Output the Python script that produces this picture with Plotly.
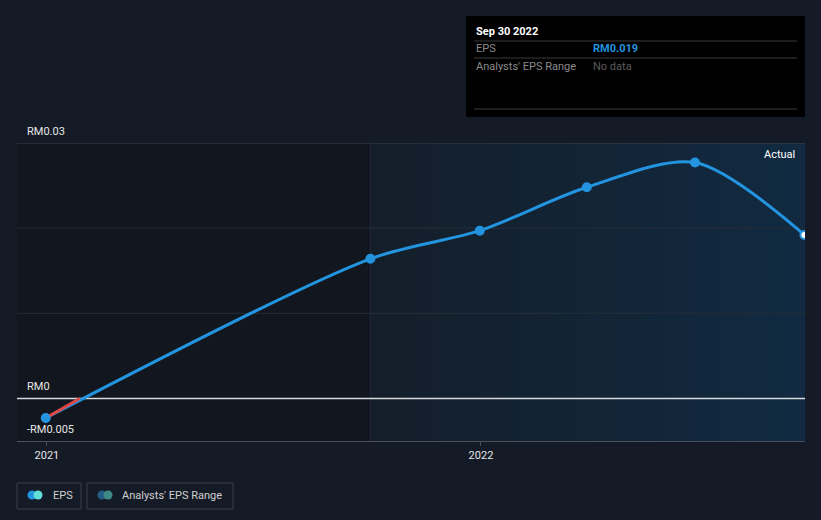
import plotly.graph_objects as go
import pandas as pd

# ---- data ----
dates = ["2020-12-31", "2021-09-30", "2021-12-31", "2022-03-31", "2022-06-30", "2022-09-30"]
eps = [-0.0023, 0.0164, 0.0197, 0.0248, 0.0277, 0.0192]
x_ticks = ["2021-01-01", "2022-01-01"]
x_tick_labels = ["2021", "2022"]
y_labels_vals = [0.03, 0.0, -0.005]
y_labels_text = ["RM0.03", "RM0", "-RM0.005"]
grid_vals = [0.01, 0.02]
top_val = 0.03
today = "2021-09-30"
x_range = ["2020-12-06 20:00", "2022-09-30 12:00"]
y_range = [-0.005, 0.03]

W, H = 821, 520
ML, MR, MT, MB = 17, 16, 143, 79
PW, PH = W - ML - MR, H - MT - MB

def px(x):
    return (x - ML) / PW

def py(y):
    return (H - MB - y) / PH

FONT = "Roboto, 'Open Sans', sans-serif"
BLUE = "#2394df"

fig = go.Figure()

# forecast-side shaded region (gradient)
fig.add_trace(go.Scatter(
    x=[today, x_range[1], x_range[1], today, today],
    y=[y_range[0], y_range[0], y_range[1], y_range[1], y_range[0]],
    mode="lines", line=dict(width=0), fill="toself",
    fillgradient=dict(type="horizontal",
                      colorscale=[[0, "#141e2a"], [1, "#112a41"]]),
    hoverinfo="skip", showlegend=False,
))

# gridlines drawn over the shaded region
for gv in grid_vals:
    fig.add_trace(go.Scatter(x=x_range, y=[gv, gv], mode="lines",
                             line=dict(color="#252e3a", width=1),
                             hoverinfo="skip", showlegend=False))
fig.add_trace(go.Scatter(x=x_range, y=[top_val, top_val], mode="lines",
                         line=dict(color="#3b424d", width=1),
                         hoverinfo="skip", showlegend=False))
# today divider
fig.add_trace(go.Scatter(x=[today, today], y=y_range, mode="lines",
                         line=dict(color="#1f2c3a", width=1),
                         hoverinfo="skip", showlegend=False))
# zero line
fig.add_trace(go.Scatter(x=x_range, y=[0, 0], mode="lines",
                         line=dict(color="#d6d9de", width=1.5),
                         hoverinfo="skip", showlegend=False))

# main EPS line
marker_fill = [BLUE] * (len(eps) - 1) + ["#ffffff"]
fig.add_trace(go.Scatter(
    x=dates, y=eps, mode="lines+markers",
    line=dict(color=BLUE, width=3, shape="spline", smoothing=0.85),
    marker=dict(size=8, color=marker_fill, line=dict(color=BLUE, width=2)),
    cliponaxis=True, showlegend=False, hoverinfo="skip",
))

# negative part in red: from first point to zero crossing
d0, d1 = pd.Timestamp(dates[0]), pd.Timestamp(dates[1])
frac = (0 - eps[0]) / (eps[1] - eps[0])
cross = d0 + (d1 - d0) * frac * 0.85
fig.add_trace(go.Scatter(
    x=[dates[0], cross], y=[eps[0], 0], mode="lines",
    line=dict(color="#e04646", width=3), showlegend=False, hoverinfo="skip",
))
# redraw first marker over red line
fig.add_trace(go.Scatter(
    x=[dates[0]], y=[eps[0]], mode="markers",
    marker=dict(size=9, color=BLUE), showlegend=False, hoverinfo="skip",
))

shapes = []
# tooltip box
shapes.append(dict(type="rect", xref="paper", yref="paper", x0=px(466), x1=px(805),
                   y0=py(117), y1=py(16), fillcolor="#000000", line=dict(width=0), layer="above"))
for yy in [41, 58, 109]:
    shapes.append(dict(type="line", xref="paper", yref="paper", x0=px(474), x1=px(797),
                       y0=py(yy), y1=py(yy), line=dict(color="#3a3a3a", width=1), layer="above"))

# legend boxes
shapes.append(dict(type="rect", xref="paper", yref="paper", x0=px(17), x1=px(81),
                   y0=py(509), y1=py(483), line=dict(color="#3b414b", width=1),
                   fillcolor="rgba(0,0,0,0)"))
shapes.append(dict(type="rect", xref="paper", yref="paper", x0=px(87), x1=px(233),
                   y0=py(509), y1=py(483), line=dict(color="#3b414b", width=1),
                   fillcolor="rgba(0,0,0,0)"))
# legend icons (two overlapping circles each)
def circle(cx, cy, r, color):
    return dict(type="circle", xref="paper", yref="paper", x0=px(cx - r), x1=px(cx + r),
                y0=py(cy + r), y1=py(cy - r), fillcolor=color, line=dict(width=0))
shapes += [circle(32, 495, 4.5, "#2394df"), circle(38, 495, 4.5, "#5fe0d6"),
           circle(102, 495, 4.5, "#235c86"), circle(108, 495, 4.5, "#3f8a84")]

annotations = []
for v, t in zip(y_labels_vals, y_labels_text):
    annotations.append(dict(xref="paper", yref="y", x=px(25), y=v, text=t, showarrow=False,
                            xanchor="left", yanchor="bottom", yshift=3,
                            font=dict(family=FONT, size=11, color="#e6e6e6")))
annotations.append(dict(xref="paper", yref="paper", x=px(797), y=py(154), text="Actual",
                        showarrow=False, xanchor="right", yanchor="middle",
                        font=dict(family=FONT, size=11, color="#ffffff")))

# tooltip text
last_date = pd.Timestamp(dates[-1])
annotations.append(dict(xref="paper", yref="paper", x=px(474), y=py(31),
                        text="<b>" + last_date.strftime("%b %d %Y") + "</b>", showarrow=False,
                        xanchor="left", yanchor="middle",
                        font=dict(family=FONT, size=11, color="#ffffff")))
annotations.append(dict(xref="paper", yref="paper", x=px(474), y=py(49), text="EPS",
                        showarrow=False, xanchor="left", yanchor="middle",
                        font=dict(family=FONT, size=11, color="#8a8a8a")))
annotations.append(dict(xref="paper", yref="paper", x=px(591), y=py(49),
                        text="<b>RM%.3f</b>" % eps[-1], showarrow=False, xanchor="left",
                        yanchor="middle", font=dict(family=FONT, size=11, color=BLUE)))
annotations.append(dict(xref="paper", yref="paper", x=px(474), y=py(66),
                        text="Analysts' EPS Range", showarrow=False, xanchor="left",
                        yanchor="middle", font=dict(family=FONT, size=11, color="#8a8a8a")))
annotations.append(dict(xref="paper", yref="paper", x=px(591), y=py(66), text="No data",
                        showarrow=False, xanchor="left", yanchor="middle",
                        font=dict(family=FONT, size=11, color="#5c5c5c")))

# legend labels
annotations.append(dict(xref="paper", yref="paper", x=px(51), y=py(495), text="EPS",
                        showarrow=False, xanchor="left", yanchor="middle",
                        font=dict(family=FONT, size=11, color="#d0d0d0")))
annotations.append(dict(xref="paper", yref="paper", x=px(120), y=py(495),
                        text="Analysts' EPS Range", showarrow=False, xanchor="left",
                        yanchor="middle", font=dict(family=FONT, size=11, color="#d0d0d0")))

fig.update_layout(
    width=W, height=H,
    margin=dict(l=ML, r=MR, t=MT, b=MB),
    paper_bgcolor="#151b26",
    plot_bgcolor="#12161e",
    shapes=shapes, annotations=annotations,
    showlegend=False,
    font=dict(family=FONT, size=11, color="#e6e6e6"),
    xaxis=dict(type="date", range=x_range, tickvals=x_ticks, ticktext=x_tick_labels,
               showgrid=False, zeroline=False, showline=True, linecolor="#4a4f59",
               linewidth=1, ticks="outside", ticklen=4, tickcolor="#4a4f59",
               tickfont=dict(family=FONT, size=11, color="#e6e6e6")),
    yaxis=dict(range=y_range, showticklabels=False, showgrid=False,
               zeroline=False, showline=False, fixedrange=True),
)

fig.write_html("out.html")
